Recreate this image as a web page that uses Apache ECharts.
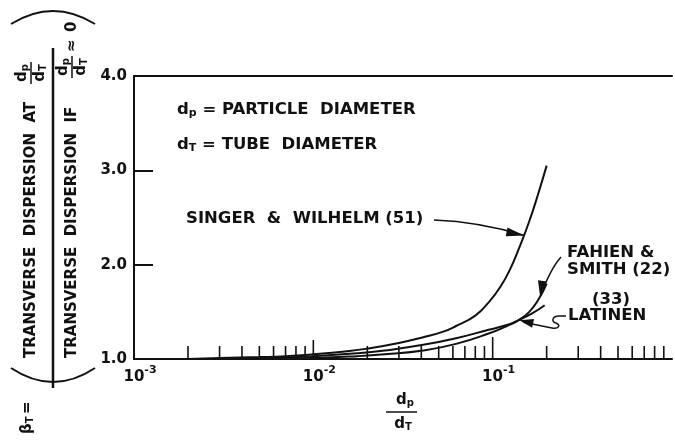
<!DOCTYPE html>
<html>
<head>
<meta charset="utf-8">
<script src="https://cdn.jsdelivr.net/npm/echarts@6/dist/echarts.min.js"></script>
<style>
html,body{margin:0;padding:0;background:#fff;}
#chart{width:675px;height:440px;}
</style>
</head>
<body>
<div id="chart"></div>
<script>
// Particle-to-tube diameter ratio (dp/dT) and dispersion ratio β_T for each correlation
const singerX  = [0.002, 0.003, 0.005, 0.007, 0.01, 0.015, 0.02, 0.03, 0.041, 0.053, 0.0625, 0.08, 0.095, 0.11, 0.125, 0.14, 0.16, 0.18, 0.2];
const singerY  = [1.0,   1.01,  1.02,  1.03,  1.05, 1.08,  1.11, 1.17, 1.23,  1.29,  1.35,   1.46,  1.60,  1.76,  1.95,  2.17,  2.46,  2.76,  3.05];

const latinenX = [0.004, 0.007, 0.01, 0.0176, 0.025, 0.041, 0.0625, 0.095, 0.12, 0.139, 0.165, 0.195];
const latinenY = [1.0,   1.015, 1.03, 1.06,   1.09,  1.15,  1.22,   1.31,  1.36, 1.41,  1.48,  1.57];

const fahienX  = [0.005, 0.01, 0.0176, 0.025, 0.041, 0.0625, 0.095, 0.12, 0.139, 0.16, 0.18, 0.2];
const fahienY  = [1.0,   1.01, 1.03,   1.05,  1.09,  1.16,   1.27,  1.35, 1.41,  1.50, 1.63, 1.80];

// Hatch marks along the ratio axis (2..9 of each decade, plus decades)
const hatchValues = [
  0.002, 0.003, 0.004, 0.005, 0.006, 0.007, 0.008, 0.009,
  0.01, 0.02, 0.03, 0.04, 0.05, 0.06, 0.07, 0.08, 0.09,
  0.1, 0.2, 0.3, 0.4, 0.5, 0.6, 0.7, 0.8, 0.9
];

const yTicks = [1.0, 2.0, 3.0, 4.0];

const INK = '#111';
const FONT = '"DejaVu Sans", sans-serif';

function pairs(xs, ys) { return xs.map((x, i) => [x, ys[i]]); }

const chart = echarts.init(document.getElementById('chart'), null, {renderer: 'canvas'});

const curveStyle = {color: INK, width: 2};

const option = {
  animation: false,
  backgroundColor: '#fff',
  grid: {left: 134, top: 76, width: 545, height: 283, containLabel: false},
  xAxis: [
    {
      type: 'log', logBase: 10, min: 0.001, max: 1,
      position: 'bottom',
      axisLine: {lineStyle: {color: INK, width: 2}},
      axisTick: {show: false},
      splitLine: {show: false},
      minorTick: {show: false},
      axisLabel: {
        margin: 6,
        padding: [0, 0, 0, 12],
        formatter: function (v) {
          const e = Math.round(Math.log10(v));
          if (e >= 0) return '';
          return '{n|10}{e|' + e + '}';
        },
        rich: {
          n: {fontFamily: FONT, fontWeight: 'bold', fontSize: 15, color: INK, lineHeight: 20, verticalAlign: 'bottom'},
          e: {fontFamily: FONT, fontWeight: 'bold', fontSize: 11, color: INK, lineHeight: 20, verticalAlign: 'top'}
        }
      }
    },
    {
      type: 'log', logBase: 10, min: 0.001, max: 1,
      position: 'top',
      axisLine: {lineStyle: {color: INK, width: 2}},
      axisTick: {show: false},
      axisLabel: {show: false},
      splitLine: {show: false}
    }
  ],
  yAxis: {
    type: 'value', min: 1, max: 4, interval: 1,
    axisLine: {show: true, lineStyle: {color: INK, width: 2}},
    axisTick: {show: true, inside: true, length: 19, lineStyle: {color: INK, width: 2}},
    splitLine: {show: false},
    axisLabel: {
      margin: 7,
      color: INK, fontFamily: FONT, fontWeight: 'bold', fontSize: 15,
      formatter: v => v.toFixed(1)
    }
  },
  series: [
    {
      name: 'hatch', type: 'custom', xAxisIndex: 0, yAxisIndex: 0,
      data: hatchValues.map(v => [v, 1]),
      silent: true, z: 1,
      renderItem: function (params, api) {
        const v = api.value(0);
        const p = api.coord([v, api.value(1)]);
        const e = Math.log10(v);
        const decade = Math.abs(e - Math.round(e)) < 1e-6;
        const len = decade ? (Math.round(e) === -1 ? 22 : 19) : 13;
        return {
          type: 'line',
          shape: {x1: p[0], y1: p[1], x2: p[0], y2: p[1] - len},
          style: {stroke: INK, lineWidth: 1.6}
        };
      }
    },
    {
      name: 'SINGER & WILHELM (51)', type: 'line', data: pairs(singerX, singerY),
      showSymbol: false, smooth: 0.5, z: 3, lineStyle: curveStyle
    },
    {
      name: 'LATINEN (33)', type: 'line', data: pairs(latinenX, latinenY),
      showSymbol: false, smooth: 0.5, z: 3, lineStyle: curveStyle
    },
    {
      name: 'FAHIEN & SMITH (22)', type: 'line', data: pairs(fahienX, fahienY),
      showSymbol: false, smooth: 0.5, z: 3, lineStyle: curveStyle
    }
  ]
};

chart.setOption(option);

// ---- annotations ----
const toPx = (pt) => chart.convertToPixel({xAxisIndex: 0, yAxisIndex: 0}, pt);

function arrowHead(tip, from, len, half) {
  const dx = tip[0] - from[0], dy = tip[1] - from[1];
  const d = Math.hypot(dx, dy) || 1;
  const ux = dx / d, uy = dy / d;
  const bx = tip[0] - ux * len, by = tip[1] - uy * len;
  return {
    type: 'polygon', z: 10,
    shape: {points: [tip, [bx - uy * half, by + ux * half], [bx + uy * half, by - ux * half]]},
    style: {fill: INK}
  };
}

const subRich = {s: {font: 'bold 10px ' + FONT, fill: INK, padding: [7, 0, 0, 0]}};

// hand-lettered labels run a little wider than the screen font
const txt = (x, y, text, align, sx) => ({
  type: 'text', x: x, y: y, z: 10,
  scaleX: sx === undefined ? 1.1 : sx,
  style: {
    text: text, font: 'bold 15px ' + FONT, fill: INK,
    verticalAlign: 'middle', align: align || 'left', rich: subRich
  }
});

const curve = (p0, c1, c2, p1, w) => ({
  type: 'bezierCurve', z: 10,
  shape: {x1: p0[0], y1: p0[1], cpx1: c1[0], cpy1: c1[1], cpx2: c2[0], cpy2: c2[1], x2: p1[0], y2: p1[1]},
  style: {stroke: INK, lineWidth: w || 1.5, fill: null}
});

const seg = (p0, p1, w) => ({
  type: 'line', z: 10,
  shape: {x1: p0[0], y1: p0[1], x2: p1[0], y2: p1[1]},
  style: {stroke: INK, lineWidth: w || 1.5}
});

const singerTip = toPx([0.15, 2.31]);
const fahienTip = toPx([0.184, 1.66]);
const latinenTip = toPx([0.141, 1.41]);

const graphics = [];

// definitions of the two diameters
graphics.push(txt(177, 110, 'd{s|p} = PARTICLE  DIAMETER'));
graphics.push(txt(177, 145, 'd{s|T} = TUBE  DIAMETER'));

// curve labels
graphics.push(txt(186, 219, 'SINGER  &  WILHELM (51)'));
graphics.push(txt(567, 253, 'FAHIEN &'));
graphics.push(txt(567, 270, 'SMITH (22)'));
graphics.push(txt(592, 300, '(33)'));
graphics.push(txt(568, 316, 'LATINEN'));

// Singer & Wilhelm arrow
graphics.push(curve([434, 220], [460, 221], [490, 225], singerTip));
graphics.push(arrowHead(singerTip, [singerTip[0] - 20, singerTip[1] - 4], 18, 4.5));

// Fahien & Smith arrow
graphics.push(curve([561, 257], [553, 266], [547, 278], fahienTip));
graphics.push(arrowHead(fahienTip, [fahienTip[0] + 2, fahienTip[1] - 14], 16, 4.5));

// Latinen arrow with its small S-bend
graphics.push(seg([566, 316], [559, 316]));
graphics.push(curve([559, 316], [552, 316], [551, 322], [556, 323]));
graphics.push(curve([556, 323], [561, 325], [559, 329], [552, 328]));
graphics.push(seg([552, 328], [latinenTip[0] + 4, latinenTip[1] + 2]));
graphics.push(arrowHead(latinenTip, [latinenTip[0] + 18, latinenTip[1] + 4], 14, 4.5));

// horizontal axis title: dp / dT
graphics.push(txt(405, 400, 'd{s|p}', 'center', 1));
graphics.push(seg([386, 412], [417, 412]));
graphics.push(txt(403, 424, 'd{s|T}', 'center', 1));

// vertical axis title, laid out horizontally then turned to read bottom-to-top
const lt = (x, y, text, align) => ({
  type: 'text', x: x, y: y,
  style: {text: text, font: 'bold 15px ' + FONT, fill: INK, align: align || 'left', verticalAlign: 'middle', rich: subRich}
});
const lseg = (x1, y1, x2, y2, w) => ({type: 'line', shape: {x1, y1, x2, y2}, style: {stroke: INK, lineWidth: w || 1.5}});
const lcurve = (x1, y1, cx, cy, x2, y2) => ({
  type: 'bezierCurve', shape: {x1, y1, cpx1: cx, cpy1: cy, x2, y2}, style: {stroke: INK, lineWidth: 2, fill: null}
});
const frac = (cx, cy) => ([
  lt(cx, cy - 9, 'd{s|p}', 'center'),
  lseg(cx - 11, cy, cx + 11, cy),
  lt(cx, cy + 9, 'd{s|T}', 'center')
]);

graphics.push({
  type: 'group', x: 53, y: 440, rotation: Math.PI / 2, z: 10,
  children: [
    lt(6, -26, 'β{s|T}'),
    lt(26, -26, '='),
    lcurve(72, -42, 44, 0, 72, 42),
    lt(82, -22, 'TRANSVERSE  DISPERSION  AT'),
    ...frac(367, -22),
    lseg(52, 0, 392, 0, 2.5),
    lt(82, 19, 'TRANSVERSE  DISPERSION  IF'),
    ...frac(373, 19),
    lt(388, 19, '≈'),
    lt(408, 19, '0'),
    lcurve(416, -42, 442, 0, 416, 42)
  ]
});

chart.setOption({graphic: graphics});
</script>
</body>
</html>
